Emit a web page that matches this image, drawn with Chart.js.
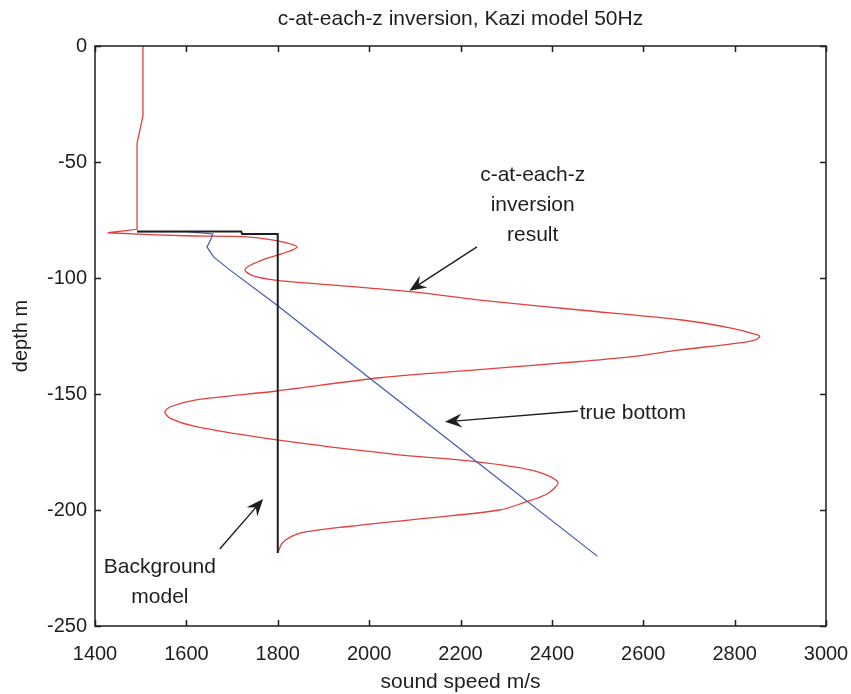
<!DOCTYPE html>
<html>
<head>
<meta charset="utf-8">
<script src="https://cdn.jsdelivr.net/npm/chart.js@4.4.1/dist/chart.umd.min.js"></script>
<style>
  html, body { margin: 0; padding: 0; background: #fff; }
  #wrap { width: 851px; height: 694px; position: relative; }
</style>
</head>
<body>
<div id="wrap"><canvas id="profile"></canvas></div>
<script>
// axis ticks
const speedTicks = [1400, 1600, 1800, 2000, 2200, 2400, 2600, 2800, 3000];
const depthTicks = [0, -50, -100, -150, -200, -250];

// background model (sediment starts at ~80 m)
const bgSpeed = [1492, 1720, 1722, 1800, 1800];
const bgDepth = [-80, -80, -81, -81, -218.5];

// true bottom profile
const trueSpeed = [1492, 1600, 1658, 1652, 1645, 1660, 1695, 1800, 2000, 2236, 2500];
const trueDepth = [-80, -80, -81, -84, -86.6, -91, -96.5, -112, -143, -179.3, -220];

// c-at-each-z inversion result: water column part (straight segments)
const invWaterSpeed = [1505, 1505, 1492, 1492, 1428, 1520, 1614];
const invWaterDepth = [0, -30, -42, -79, -80.5, -81.3, -81.9];

// c-at-each-z inversion result: sediment part
const invSedSpeed = [1614, 1733, 1800, 1842, 1810, 1776, 1740, 1728,
  1745, 1798, 1950, 2096, 2242, 2461, 2680, 2790, 2850, 2855, 2840, 2790, 2680, 2571, 2461, 2240,
  2024, 1798, 1619, 1565, 1553, 1565, 1619, 1798, 2056, 2227, 2360, 2413, 2390, 2336, 2286, 2133,
  1960, 1849, 1811, 1800];
const invSedDepth = [-81.9, -82.3, -84, -86.6, -89.5, -91.5, -94.5, -96.5,
  -99, -101, -103.5, -106, -109.5, -113.8, -118, -121.5, -124.5, -125.4, -127, -128.5, -131, -134, -136, -139.5,
  -143, -148.7, -152.6, -155.5, -157.8, -160.5, -164, -169.8, -176, -179, -183, -188, -193, -197, -200, -203.4,
  -207, -210, -214, -218.5];

// annotation text and arrows, in data units
const notes = [
  { lines: ['c-at-each-z', 'inversion', 'result'], c: 2358, z: [-55.6, -68.5, -81.5], align: 'center',
    arrow: [2236, -86.6, 2088, -105.5] },
  { lines: ['true bottom'], c: 2461, z: [-158.2], align: 'left',
    arrow: [2457, -157.3, 2166, -162] },
  { lines: ['Background', 'model'], c: 1542, z: [-224.6, -237.5], align: 'center',
    arrow: [1673, -216.8, 1768, -195.3] },
];

const pts = (xs, ys) => xs.map((x, i) => ({ x: x, y: ys[i] }));

const labelFont = '"Liberation Sans", Arial, Helvetica, sans-serif';
const ink = '#1e1e1e';
const red = '#e4403c';

// box frame with inward ticks on all four sides, plus the text notes
const frame = {
  id: 'frame',
  afterDatasetsDraw(chart) {
    const { ctx, chartArea: a, scales: { x, y } } = chart;
    ctx.save();
    ctx.strokeStyle = ink;
    ctx.lineWidth = 1.5;
    ctx.strokeRect(a.left, a.top, a.right - a.left, a.bottom - a.top);
    ctx.beginPath();
    speedTicks.forEach(v => {
      const px = Math.round(x.getPixelForValue(v)) + 0.5;
      ctx.moveTo(px, a.bottom); ctx.lineTo(px, a.bottom - 6);
      ctx.moveTo(px, a.top); ctx.lineTo(px, a.top + 6);
    });
    depthTicks.forEach(v => {
      const py = Math.round(y.getPixelForValue(v)) + 0.5;
      ctx.moveTo(a.left, py); ctx.lineTo(a.left + 6, py);
      ctx.moveTo(a.right, py); ctx.lineTo(a.right - 6, py);
    });
    ctx.stroke();

    ctx.fillStyle = ink;
    ctx.font = '21px ' + labelFont;
    ctx.textBaseline = 'middle';
    notes.forEach(n => {
      ctx.textAlign = n.align;
      n.lines.forEach((t, i) => ctx.fillText(t, x.getPixelForValue(n.c), y.getPixelForValue(n.z[i])));
      const [c0, z0, c1, z1] = n.arrow;
      const x0 = x.getPixelForValue(c0), y0 = y.getPixelForValue(z0);
      const x1 = x.getPixelForValue(c1), y1 = y.getPixelForValue(z1);
      const ang = Math.atan2(y1 - y0, x1 - x0);
      const len = 17, half = 7;
      ctx.lineWidth = 1.4;
      ctx.beginPath();
      ctx.moveTo(x0, y0);
      ctx.lineTo(x1 - Math.cos(ang) * 9, y1 - Math.sin(ang) * 9);
      ctx.stroke();
      // filled head with a notched back
      ctx.save();
      ctx.translate(x1, y1);
      ctx.rotate(ang);
      ctx.beginPath();
      ctx.moveTo(0, 0);
      ctx.lineTo(-len, -half);
      ctx.lineTo(-len * 0.65, 0);
      ctx.lineTo(-len, half);
      ctx.closePath();
      ctx.fill();
      ctx.restore();
    });
    ctx.restore();
  }
};

new Chart(document.getElementById('profile'), {
  type: 'scatter',
  data: {
    datasets: [
      { label: 'Background model', data: pts(bgSpeed, bgDepth), showLine: true,
        borderColor: ink, borderWidth: 2, pointRadius: 0, tension: 0 },
      { label: 'true bottom', data: pts(trueSpeed, trueDepth), showLine: true,
        borderColor: '#4658b0', borderWidth: 1.2, pointRadius: 0, tension: 0 },
      { label: 'inversion (water)', data: pts(invWaterSpeed, invWaterDepth), showLine: true,
        borderColor: red, borderWidth: 1.3, pointRadius: 0, tension: 0 },
      { label: 'c-at-each-z inversion result', data: pts(invSedSpeed, invSedDepth), showLine: true,
        borderColor: red, borderWidth: 1.3, pointRadius: 0, tension: 0.3 },
    ]
  },
  options: {
    responsive: true,
    maintainAspectRatio: false,
    animation: false,
    layout: { padding: { left: 0, right: 25, top: 0, bottom: 0 } },
    plugins: {
      legend: { display: false },
      tooltip: { enabled: false },
      title: {
        display: true,
        fullSize: false,
        text: 'c-at-each-z inversion, Kazi model 50Hz',
        color: ink,
        font: { family: labelFont, size: 21, weight: 'normal' },
        padding: { top: 7, bottom: 13.8 }
      }
    },
    scales: {
      x: {
        type: 'linear', min: 1400, max: 3000,
        afterBuildTicks: s => { s.ticks = speedTicks.map(v => ({ value: v })); },
        afterFit: s => { s.height = 68; s.paddingLeft = 0; s.paddingRight = 0; },
        grid: { display: false, drawTicks: false },
        border: { display: false },
        ticks: { color: ink, padding: 16, maxRotation: 0, autoSkip: false,
          callback: v => String(v),
          font: { family: labelFont, size: 20 } },
        title: { display: true, text: 'sound speed m/s', color: ink, padding: { top: 0, bottom: -1 },
          font: { family: labelFont, size: 21 } }
      },
      y: {
        type: 'linear', min: -250, max: 0,
        afterBuildTicks: s => { s.ticks = depthTicks.map(v => ({ value: v })); },
        afterFit: s => { s.width = 95; },
        grid: { display: false, drawTicks: false },
        border: { display: false },
        ticks: { color: ink, padding: 8, autoSkip: false,
          callback: v => String(v),
          font: { family: labelFont, size: 20 } },
        title: { display: true, text: 'depth m', color: ink, padding: { top: 9, bottom: 0 },
          font: { family: labelFont, size: 20 } }
      }
    }
  },
  plugins: [frame]
});
</script>
</body>
</html>
